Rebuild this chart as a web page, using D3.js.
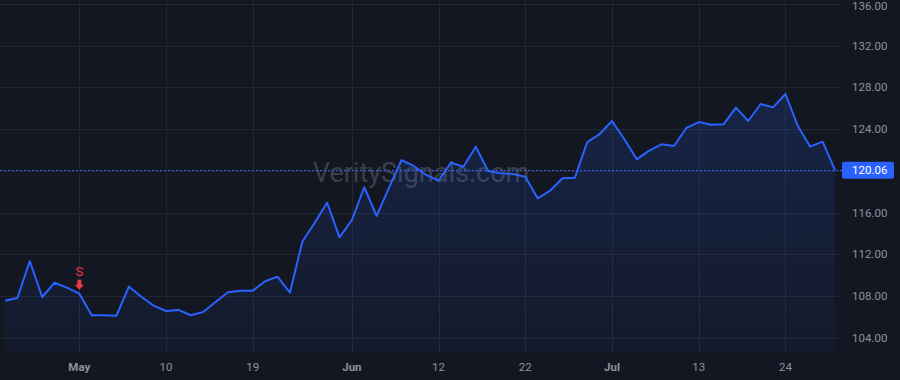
<!DOCTYPE html>
<html>
<head>
<meta charset="utf-8">
<script src="https://cdn.jsdelivr.net/npm/d3@7"></script>
<style>
  body { margin: 0; background: #131722; }
  svg { display: block; font-family: Roboto, "Liberation Sans", sans-serif; }
</style>
</head>
<body>
<script>
// closing prices, one per trading session
var prices = [
  107.55, 107.81, 111.35, 107.90, 109.27, 108.80, 108.22, 106.15, 106.15, 106.11,
  108.90, 107.93, 107.07, 106.56, 106.66, 106.15, 106.47, 107.42, 108.35, 108.51,
  108.51, 109.41, 109.85, 108.32, 113.20, 115.02, 116.94, 113.62, 115.28, 118.42,
  115.67, 118.38, 121.03, 120.46, 119.60, 119.05, 120.78, 120.39, 122.31, 119.98,
  119.76, 119.69, 119.43, 117.36, 118.09, 119.28, 119.34, 122.74, 123.52, 124.77,
  123.02, 121.10, 121.93, 122.54, 122.37, 124.10, 124.67, 124.42, 124.45, 126.05,
  124.77, 126.40, 126.08, 127.36, 124.29, 122.31, 122.79, 120.06
];

// x axis labels and the session they sit on
var tickIndex = [6, 13, 20, 28, 35, 42, 49, 56, 63];
var tickLabels = ["May", "10", "19", "Jun", "12", "22", "Jul", "13", "24"];
var monthLabels = ["May", "Jun", "Jul"];

// price scale ticks
var priceTicks = [104, 108, 112, 116, 120, 124, 128, 132, 136];

// sell signal
var signals = [{ index: 6, label: "S" }];

var width = 900, height = 380;
var plotRight = 842, plotBottom = 352;

var svg = d3.select("body").append("svg")
    .attr("width", width)
    .attr("height", height);

var x = d3.scaleLinear()
    .domain([0, prices.length - 1])
    .range([5, 835]);

var y = d3.scaleLinear()
    .domain([102.63, 136.37])
    .range([plotBottom, 0]);

// gradient for the area under the line
var grad = svg.append("defs").append("linearGradient")
    .attr("id", "areaFill")
    .attr("gradientUnits", "userSpaceOnUse")
    .attr("x1", 0).attr("y1", 0)
    .attr("x2", 0).attr("y2", plotBottom);
grad.append("stop").attr("offset", "0%").attr("stop-color", "#2962ff").attr("stop-opacity", 0.22);
grad.append("stop").attr("offset", "100%").attr("stop-color", "#2962ff").attr("stop-opacity", 0.04);

// grid
svg.append("g")
    .attr("class", "hgrid")
  .selectAll("line")
  .data(priceTicks)
  .enter().append("line")
    .attr("x1", 0)
    .attr("x2", plotRight)
    .attr("y1", function(d) { return Math.round(y(d)) + 0.5; })
    .attr("y2", function(d) { return Math.round(y(d)) + 0.5; })
    .attr("stroke", "#232734");

svg.append("g")
    .attr("class", "vgrid")
  .selectAll("line")
  .data(tickIndex)
  .enter().append("line")
    .attr("x1", function(d) { return Math.round(x(d)) + 0.5; })
    .attr("x2", function(d) { return Math.round(x(d)) + 0.5; })
    .attr("y1", 0)
    .attr("y2", plotBottom)
    .attr("stroke", "#232734");

// watermark
svg.append("text")
    .attr("x", 421)
    .attr("y", 182)
    .attr("text-anchor", "middle")
    .attr("font-size", 27)
    .attr("fill", "#3b3f4b")
    .text("VeritySignals.com");

// area + line
var area = d3.area()
    .x(function(d, i) { return x(i); })
    .y0(plotBottom)
    .y1(function(d) { return y(d); });

var line = d3.line()
    .x(function(d, i) { return x(i); })
    .y(function(d) { return y(d); });

svg.append("path")
    .datum(prices)
    .attr("d", area)
    .attr("fill", "url(#areaFill)");

svg.append("path")
    .datum(prices)
    .attr("d", line)
    .attr("fill", "none")
    .attr("stroke", "#2962ff")
    .attr("stroke-width", 2)
    .attr("stroke-linejoin", "round");

// last price line
var last = prices[prices.length - 1];
svg.append("line")
    .attr("x1", 0)
    .attr("x2", plotRight)
    .attr("y1", Math.round(y(last)) + 0.5)
    .attr("y2", Math.round(y(last)) + 0.5)
    .attr("stroke", "#2962ff")
    .attr("stroke-dasharray", "2,2");

// sell markers
var sig = svg.append("g").attr("class", "signals")
  .selectAll("g")
  .data(signals)
  .enter().append("g")
    .attr("transform", function(d) {
      return "translate(" + x(d.index) + "," + y(prices[d.index]) + ")";
    });

sig.append("path")
    .attr("d", "M-2,-14 L2,-14 L2,-9 L4.5,-9 L0,-4 L-4.5,-9 L-2,-9 Z")
    .attr("fill", "#f23645");

sig.append("text")
    .attr("y", -18)
    .attr("text-anchor", "middle")
    .attr("font-size", 13)
    .attr("fill", "#f23645")
    .text(function(d) { return d.label; });

// price axis labels (top one kept just inside the window)
svg.append("g")
    .attr("class", "yaxis")
  .selectAll("text")
  .data(priceTicks)
  .enter().append("text")
    .attr("x", 852)
    .attr("y", function(d) { return Math.max(y(d) + 4, 9.5); })
    .attr("font-size", 11.5)
    .attr("fill", "#8f929b")
    .text(function(d) { return d3.format(".2f")(d); });

// last price badge
var badgeY = y(last);
svg.append("rect")
    .attr("x", 842)
    .attr("y", badgeY - 8.5)
    .attr("width", 52)
    .attr("height", 17)
    .attr("rx", 2)
    .attr("fill", "#2962ff");

svg.append("text")
    .attr("x", 852)
    .attr("y", badgeY + 4)
    .attr("font-size", 11.5)
    .attr("fill", "#ffffff")
    .text(d3.format(".2f")(last));

// time axis labels
svg.append("g")
    .attr("class", "xaxis")
  .selectAll("text")
  .data(tickIndex)
  .enter().append("text")
    .attr("x", function(d) { return x(d); })
    .attr("y", 371)
    .attr("text-anchor", "middle")
    .attr("font-size", 11.5)
    .attr("font-weight", function(d, i) {
      return monthLabels.indexOf(tickLabels[i]) >= 0 ? "bold" : "normal";
    })
    .attr("fill", "#8f929b")
    .text(function(d, i) { return tickLabels[i]; });
</script>
</body>
</html>
